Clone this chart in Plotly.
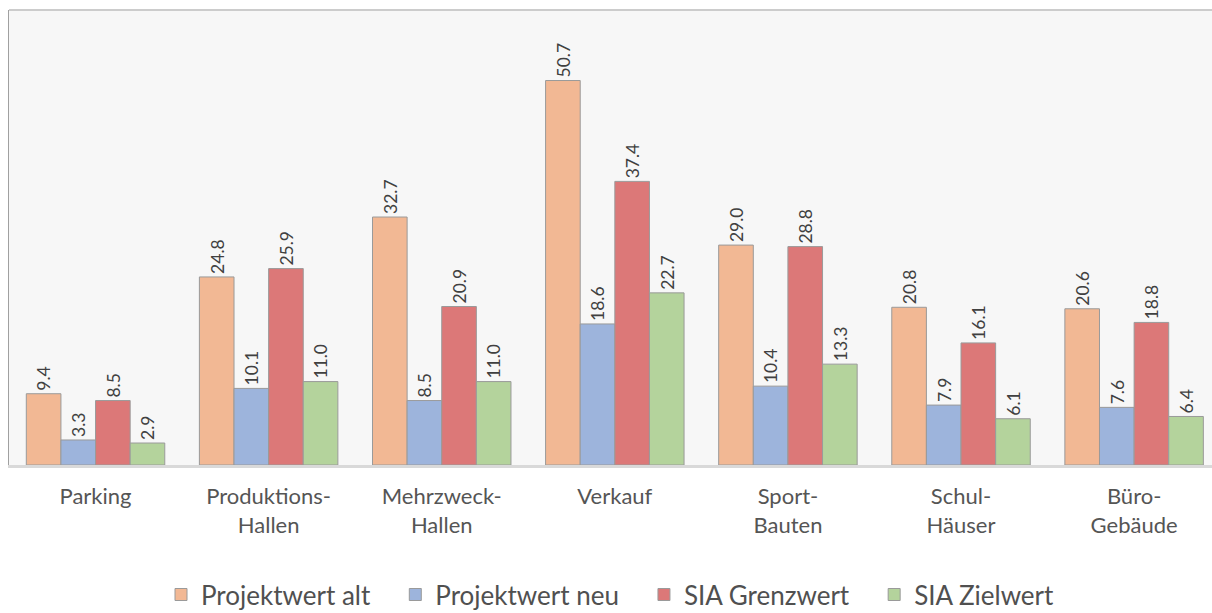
import plotly.graph_objects as go

# Kategorien und Werte
categories = ["Parking", "Produktions-<br>Hallen", "Mehrzweck-<br>Hallen", "Verkauf",
              "Sport-<br>Bauten", "Schul-<br>Häuser", "Büro-<br>Gebäude"]
projekt_alt = [9.4, 24.8, 32.7, 50.7, 29.0, 20.8, 20.6]
projekt_neu = [3.3, 10.1, 8.5, 18.6, 10.4, 7.9, 7.6]
sia_grenz = [8.5, 25.9, 20.9, 37.4, 28.8, 16.1, 18.8]
sia_ziel = [2.9, 11.0, 11.0, 22.7, 13.3, 6.1, 6.4]

series_names = ["Projektwert alt", "Projektwert neu", "SIA Grenzwert", "SIA Zielwert"]
series_vals = [projekt_alt, projekt_neu, sia_grenz, sia_ziel]
series_cols = ["#F2B894", "#9DB4DC", "#DC7878", "#B4D39C"]

FONT = "Lato, 'Noto Sans', sans-serif"
PAD = "\u00a0" * 3  # etwas mehr Abstand zwischen Legendeneinträgen

fig = go.Figure()
for i, (name, vals, col) in enumerate(zip(series_names, series_vals, series_cols)):
    label = name + (PAD if i < len(series_names) - 1 else "")
    fig.add_trace(go.Bar(
        x=list(range(len(categories))), y=vals, name=label,
        marker=dict(color=col, line=dict(color="#9a9a9a", width=1)),
        text=[f"{v:.1f}" for v in vals], textposition="outside",
        textangle=-90, textfont=dict(size=18, color="#404040", family=FONT),
        cliponaxis=False, hoverinfo="skip",
    ))

fig.update_layout(
    width=1212, height=613,
    margin=dict(l=9, r=0, t=10, b=148),
    paper_bgcolor="white", plot_bgcolor="#f7f7f7",
    barmode="group", bargap=0.2, bargroupgap=0,
    font=dict(family=FONT, color="#404040"),
    showlegend=True,
    legend=dict(orientation="h", x=0.5, xanchor="center",
                yref="container", y=0.03, yanchor="middle",
                font=dict(size=26, color="#505050", family=FONT),
                itemwidth=30, traceorder="normal"),
    uniformtext=dict(mode="show", minsize=10),
)
fig.update_xaxes(
    tickmode="array", tickvals=list(range(len(categories))), ticktext=categories,
    range=[-0.5, 6.45], showgrid=False, zeroline=False,
    showline=True, linecolor="#d9d9d9", linewidth=3,
    tickfont=dict(size=22, color="#555555", family=FONT), ticks="",
    ticklabelstandoff=10,
)
fig.update_yaxes(
    range=[0, 60], showgrid=False, zeroline=False, showticklabels=False,
    showline=True, linecolor="#a0a0a0", linewidth=1, ticks="",
)
# obere Rahmenlinie
fig.add_shape(type="line", xref="paper", yref="paper", x0=0, x1=1, y0=1, y1=1,
              line=dict(color="#cccccc", width=2))

fig.write_html("out.html", config={"displayModeBar": False},
               post_script="document.body.style.margin='0';")
